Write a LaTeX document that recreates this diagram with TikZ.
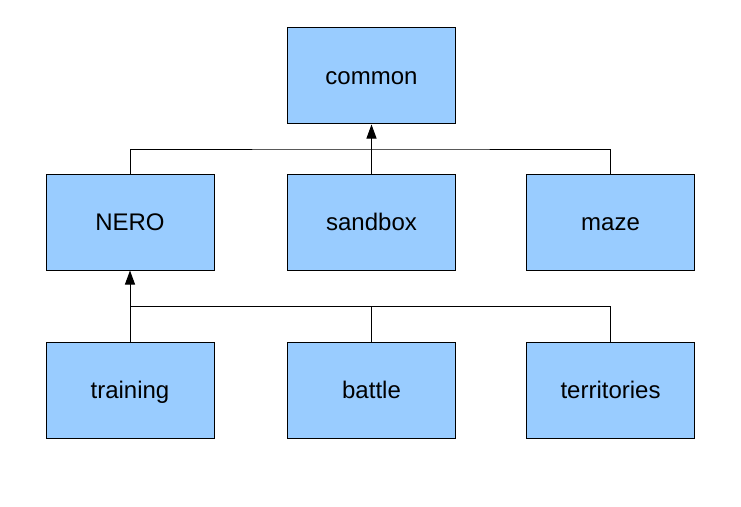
\documentclass[tikz,border=0pt]{standalone}
\usepackage{fontspec}
\setmainfont{Liberation Sans}
\usetikzlibrary{arrows.meta}
\definecolor{boxblue}{HTML}{99CCFF}
\begin{document}
\begin{tikzpicture}[x=0.75pt,y=-0.75pt,
  mod/.style={draw=black,fill=boxblue,line width=0.75pt,minimum width=126pt,minimum height=72pt,inner sep=0pt,text height=13pt,text depth=0pt,font=\fontsize{18}{21}\selectfont},
  conn/.style={draw=black,line width=0.75pt},
  arr/.style={-{Triangle[width=7.5pt,length=10.5pt]}}]
\useasboundingbox (0,0) rectangle (741,506);
\node[mod] (common) at (371.5,76) {common};
\node[mod] (nero) at (130,222) {NERO};
\node[mod] (sandbox) at (371.5,222) {sandbox};
\node[mod] (maze) at (610.5,222) {maze};
\node[mod] (training) at (130,390) {training};
\node[mod] (battle) at (371.5,390) {battle};
\node[mod] (territories) at (610.5,390) {territories};
\coordinate (j1) at (371.5,149);
\coordinate (j2) at (130,306);
\draw[conn] (nero.north) |- (j1) -| (maze.north);
\draw[conn,arr] (sandbox.north) -- (common.south);
\draw[conn] (battle.north) |- (j2);
\draw[conn] (territories.north) |- (j2);
\draw[conn,arr] (training.north) -- (nero.south);
\end{tikzpicture}
\end{document}
